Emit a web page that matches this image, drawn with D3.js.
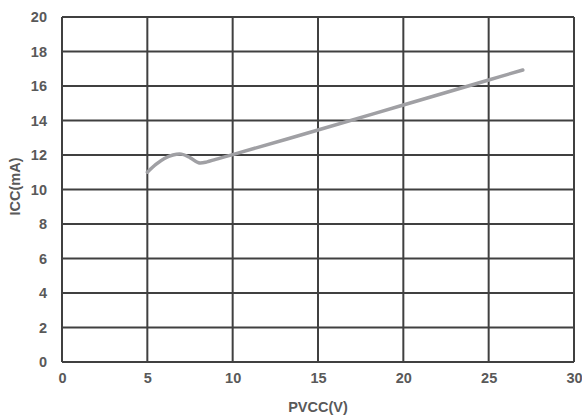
<!DOCTYPE html>
<html><head><meta charset="utf-8">
<script src="https://cdn.jsdelivr.net/npm/d3@7"></script>
<style>body{margin:0;background:#fff;}text{font-family:"Liberation Sans",Arial,sans-serif;font-weight:bold;fill:#595959;}</style>
</head><body><svg id="c" width="582" height="416"></svg>
<script>
const pvcc = [5, 5.5, 6, 6.5, 7, 7.5, 8, 8.5, 9, 10, 15, 20, 25, 27];
const icc  = [11.0, 11.45, 11.8, 12.0, 12.05, 11.85, 11.55, 11.6, 11.75, 12.02, 13.45, 14.9, 16.35, 16.93];
const xTicks = [0, 5, 10, 15, 20, 25, 30];
const yTicks = [0, 2, 4, 6, 8, 10, 12, 14, 16, 18, 20];

const svg = d3.select("#c");
const m = {l: 62, r: 8, t: 17, b: 54};
const W = 582, H = 416;
const x = d3.scaleLinear().domain([0, 30]).range([m.l, W - m.r]);
const y = d3.scaleLinear().domain([0, 20]).range([H - m.b, m.t]);

const g = svg.append("g");
g.selectAll(".vx").data(xTicks).join("line")
  .attr("x1", d => x(d)).attr("x2", d => x(d)).attr("y1", y(0)).attr("y2", y(20))
  .attr("stroke", "#404040").attr("stroke-width", 2);
g.selectAll(".hy").data(yTicks).join("line")
  .attr("x1", x(0)).attr("x2", x(30)).attr("y1", d => y(d)).attr("y2", d => y(d))
  .attr("stroke", "#404040").attr("stroke-width", 2);

const xa = svg.append("g").attr("transform", `translate(0,${y(0)})`)
  .call(d3.axisBottom(x).tickValues(xTicks).tickSize(0).tickPadding(11));
xa.select(".domain").remove();
xa.selectAll("text").style("font-size", "14.5px").attr("fill", "#595959");
const ya = svg.append("g").attr("transform", `translate(${x(0)},0)`)
  .call(d3.axisLeft(y).tickValues(yTicks).tickSize(0).tickPadding(15));
ya.select(".domain").remove();
ya.selectAll("text").style("font-size", "14.5px").attr("fill", "#595959");

const pts = pvcc.map((v, i) => [v, icc[i]]);
svg.append("path").datum(pts)
  .attr("fill", "none").attr("stroke", "#a0a0a4").attr("stroke-width", 3.5)
  .attr("stroke-linecap", "round")
  .attr("d", d3.line().x(d => x(d[0])).y(d => y(d[1])).curve(d3.curveCatmullRom));

svg.append("text").attr("x", (x(0) + x(30)) / 2).attr("y", 412).attr("text-anchor", "middle")
  .style("font-size", "14.5px").text("PVCC(V)");
svg.append("text").attr("transform", `translate(20,${(y(0) + y(20)) / 2 - 3}) rotate(-90)`)
  .attr("text-anchor", "middle").style("font-size", "14.5px").text("ICC(mA)");
</script></body></html>
